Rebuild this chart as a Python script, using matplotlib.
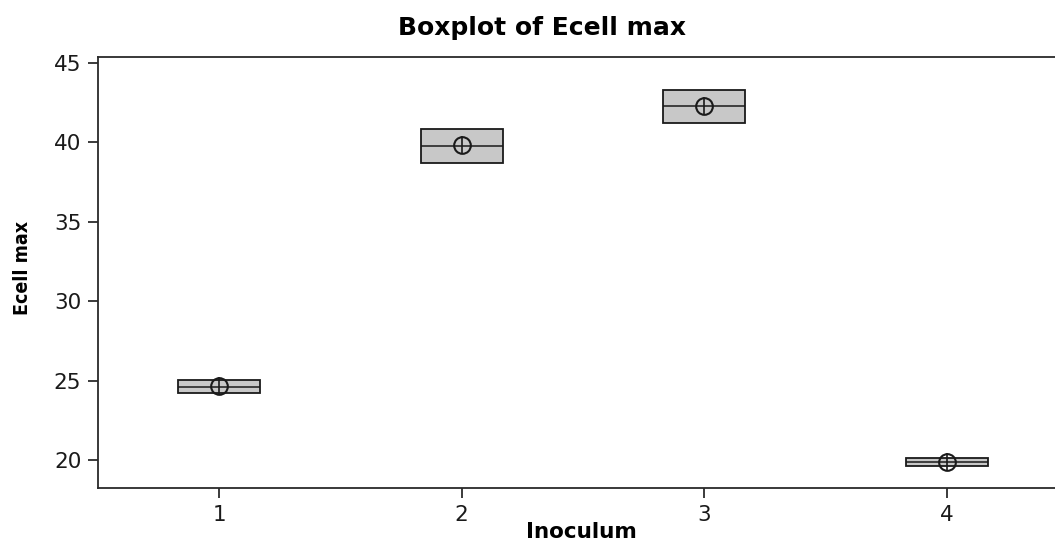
import matplotlib
matplotlib.use("Agg")
import matplotlib.pyplot as plt

groups = [1, 2, 3, 4]
q1 = [24.22, 38.70, 41.22, 19.62]
q3 = [25.04, 40.84, 43.30, 20.13]
medians = [24.60, 39.77, 42.29, 19.87]
means = [24.65, 39.80, 42.30, 19.90]

fig = plt.figure(figsize=(10.55, 5.43), dpi=100)
ax = fig.add_axes([98/1055, 1-488/543, (1068-98)/1055, (488-57)/543])

stats = []
for g, a, b, m, mu in zip(groups, q1, q3, medians, means):
    stats.append(dict(med=m, q1=a, q3=b, whislo=a, whishi=b, mean=mu, fliers=[], label=str(g)))

ax.bxp(stats, positions=groups, widths=0.34, patch_artist=True, showfliers=False,
       showcaps=False, showmeans=False,
       boxprops=dict(facecolor="#c8c8c8", edgecolor="#1a1a1a", linewidth=1.3),
       medianprops=dict(color="#1a1a1a", linewidth=1.1),
       whiskerprops=dict(color="#1a1a1a", linewidth=1.0))
ax.plot(groups, means, linestyle="none", marker="o", markersize=12, markerfacecolor="none",
        markeredgecolor="#1a1a1a", markeredgewidth=1.5, zorder=5)
ax.plot(groups, means, linestyle="none", marker="|", markersize=13, markeredgecolor="#1a1a1a",
        markeredgewidth=1.2, zorder=5)

ax.set_xlim(0.5, 4.5)
ax.set_ylim(18.25, 45.35)
ax.set_xticks(groups)
ax.set_xticklabels([str(g) for g in groups])
ax.set_yticks([20, 25, 30, 35, 40, 45])
ax.tick_params(axis="both", direction="out", length=7, width=1.2, labelsize=15.5, colors="#1a1a1a", pad=5)
for s in ["left", "bottom", "top", "right"]:
    ax.spines[s].set_linewidth(1.3)
    ax.spines[s].set_color("#2a2a2a")

fig.text(0.514, 1-28/543, "Boxplot of Ecell max", ha="center", va="center",
         fontsize=18, fontweight="bold", family="DejaVu Sans")
fig.text(581/1055, 1-532/543, "Inoculum", ha="center", va="center", fontsize=15.5,
         fontweight="bold", family="DejaVu Sans")
fig.text(23/1055, 1-268/543, "Ecell max", ha="center", va="center", rotation=90, fontsize=14,
         fontweight="bold", family="DejaVu Sans", fontstretch="condensed")

fig.savefig("out.png", dpi=100)
